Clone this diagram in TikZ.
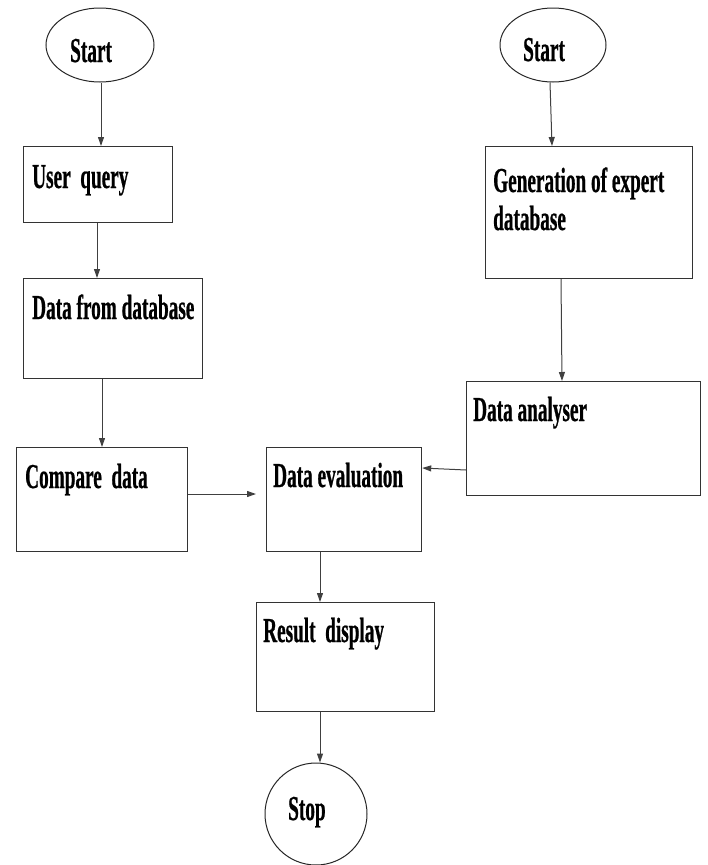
\documentclass[tikz,border=0pt]{standalone}
\usepackage{fontspec}
\newfontfamily\condbold{Liberation Serif Bold}[FakeStretch=0.55,FakeBold=0.6]
\usetikzlibrary{shapes.geometric,arrows.meta}
\begin{document}
\begin{tikzpicture}[x=1pt,y=-1pt,
  boxnode/.style={draw=black!80,line width=1.2pt,rectangle,inner sep=0pt,anchor=north west},
  ovalnode/.style={draw=black!85,line width=1pt,ellipse,inner sep=0pt},
  txt/.style={anchor=base west,inner sep=0pt,font=\condbold\fontsize{35}{38}\selectfont},
  arr/.style={draw=black!75,line width=1pt,-{Triangle[length=9pt,width=6pt]}}]
\useasboundingbox (0,0) rectangle (707,865);
% shapes
\node[ovalnode,minimum width=108pt,minimum height=74pt] (s1) at (100,45) {};
\node[ovalnode,minimum width=106pt,minimum height=74pt] (s2) at (553,45) {};
\node[boxnode,minimum width=149pt,minimum height=76pt] (uq) at (23,146) {};
\node[boxnode,minimum width=179pt,minimum height=100pt] (dfd) at (23,278) {};
\node[boxnode,minimum width=171pt,minimum height=104pt] (cd) at (16,447) {};
\node[boxnode,minimum width=155pt,minimum height=104pt] (de) at (266,447) {};
\node[boxnode,minimum width=207pt,minimum height=132pt] (ge) at (485,146) {};
\node[boxnode,minimum width=234pt,minimum height=114pt] (da) at (466,381) {};
\node[boxnode,minimum width=178pt,minimum height=109pt] (rd) at (256,602) {};
\node[ovalnode,circle,minimum size=102pt] (st) at (316,814) {};
% texts
\node[txt] (t1) at (70,62) {Start};
\node[txt] (t2) at (523,61) {Start};
\node[txt] (t3) at (32,188) {User\ \ query};
\node[txt] (t4) at (32,319) {Data from database};
\node[txt] (t5) at (25,488) {Compare\ \ data};
\node[txt] (t6) at (273,487) {Data evaluation};
\node[txt] (t7) at (493,192) {Generation of expert};
\node[txt] (t8) at (493,230) {database};
\node[txt] (t9) at (473,421) {Data analyser};
\node[txt] (t10) at (263,642) {Result\ \ display};
\node[txt] (t11) at (288,820) {Stop};
% connectors
\coordinate (cdend) at (256,494);
\draw[arr] (s1.south -| 101,0) -- (uq.north -| 101,0);
\draw[arr] (uq.south -| 97,0) -- (dfd.north -| 97,0);
\draw[arr] (dfd.south -| 102,0) -- (cd.north -| 102,0);
\draw[arr] (cd.east |- cdend) -- (cdend);
\draw[arr] (da.west |- 0,470) -- (de.east |- 0,468);
\draw[arr] (s2.south -| 550,0) -- (ge.north -| 552,0);
\draw[arr] (ge.south -| 561,0) -- (da.north -| 562,0);
\draw[arr] (de.south -| 320,0) -- (rd.north -| 320,0);
\draw[arr] (rd.south -| 320,0) -- (st.north -| 320,0);
\end{tikzpicture}
\end{document}
